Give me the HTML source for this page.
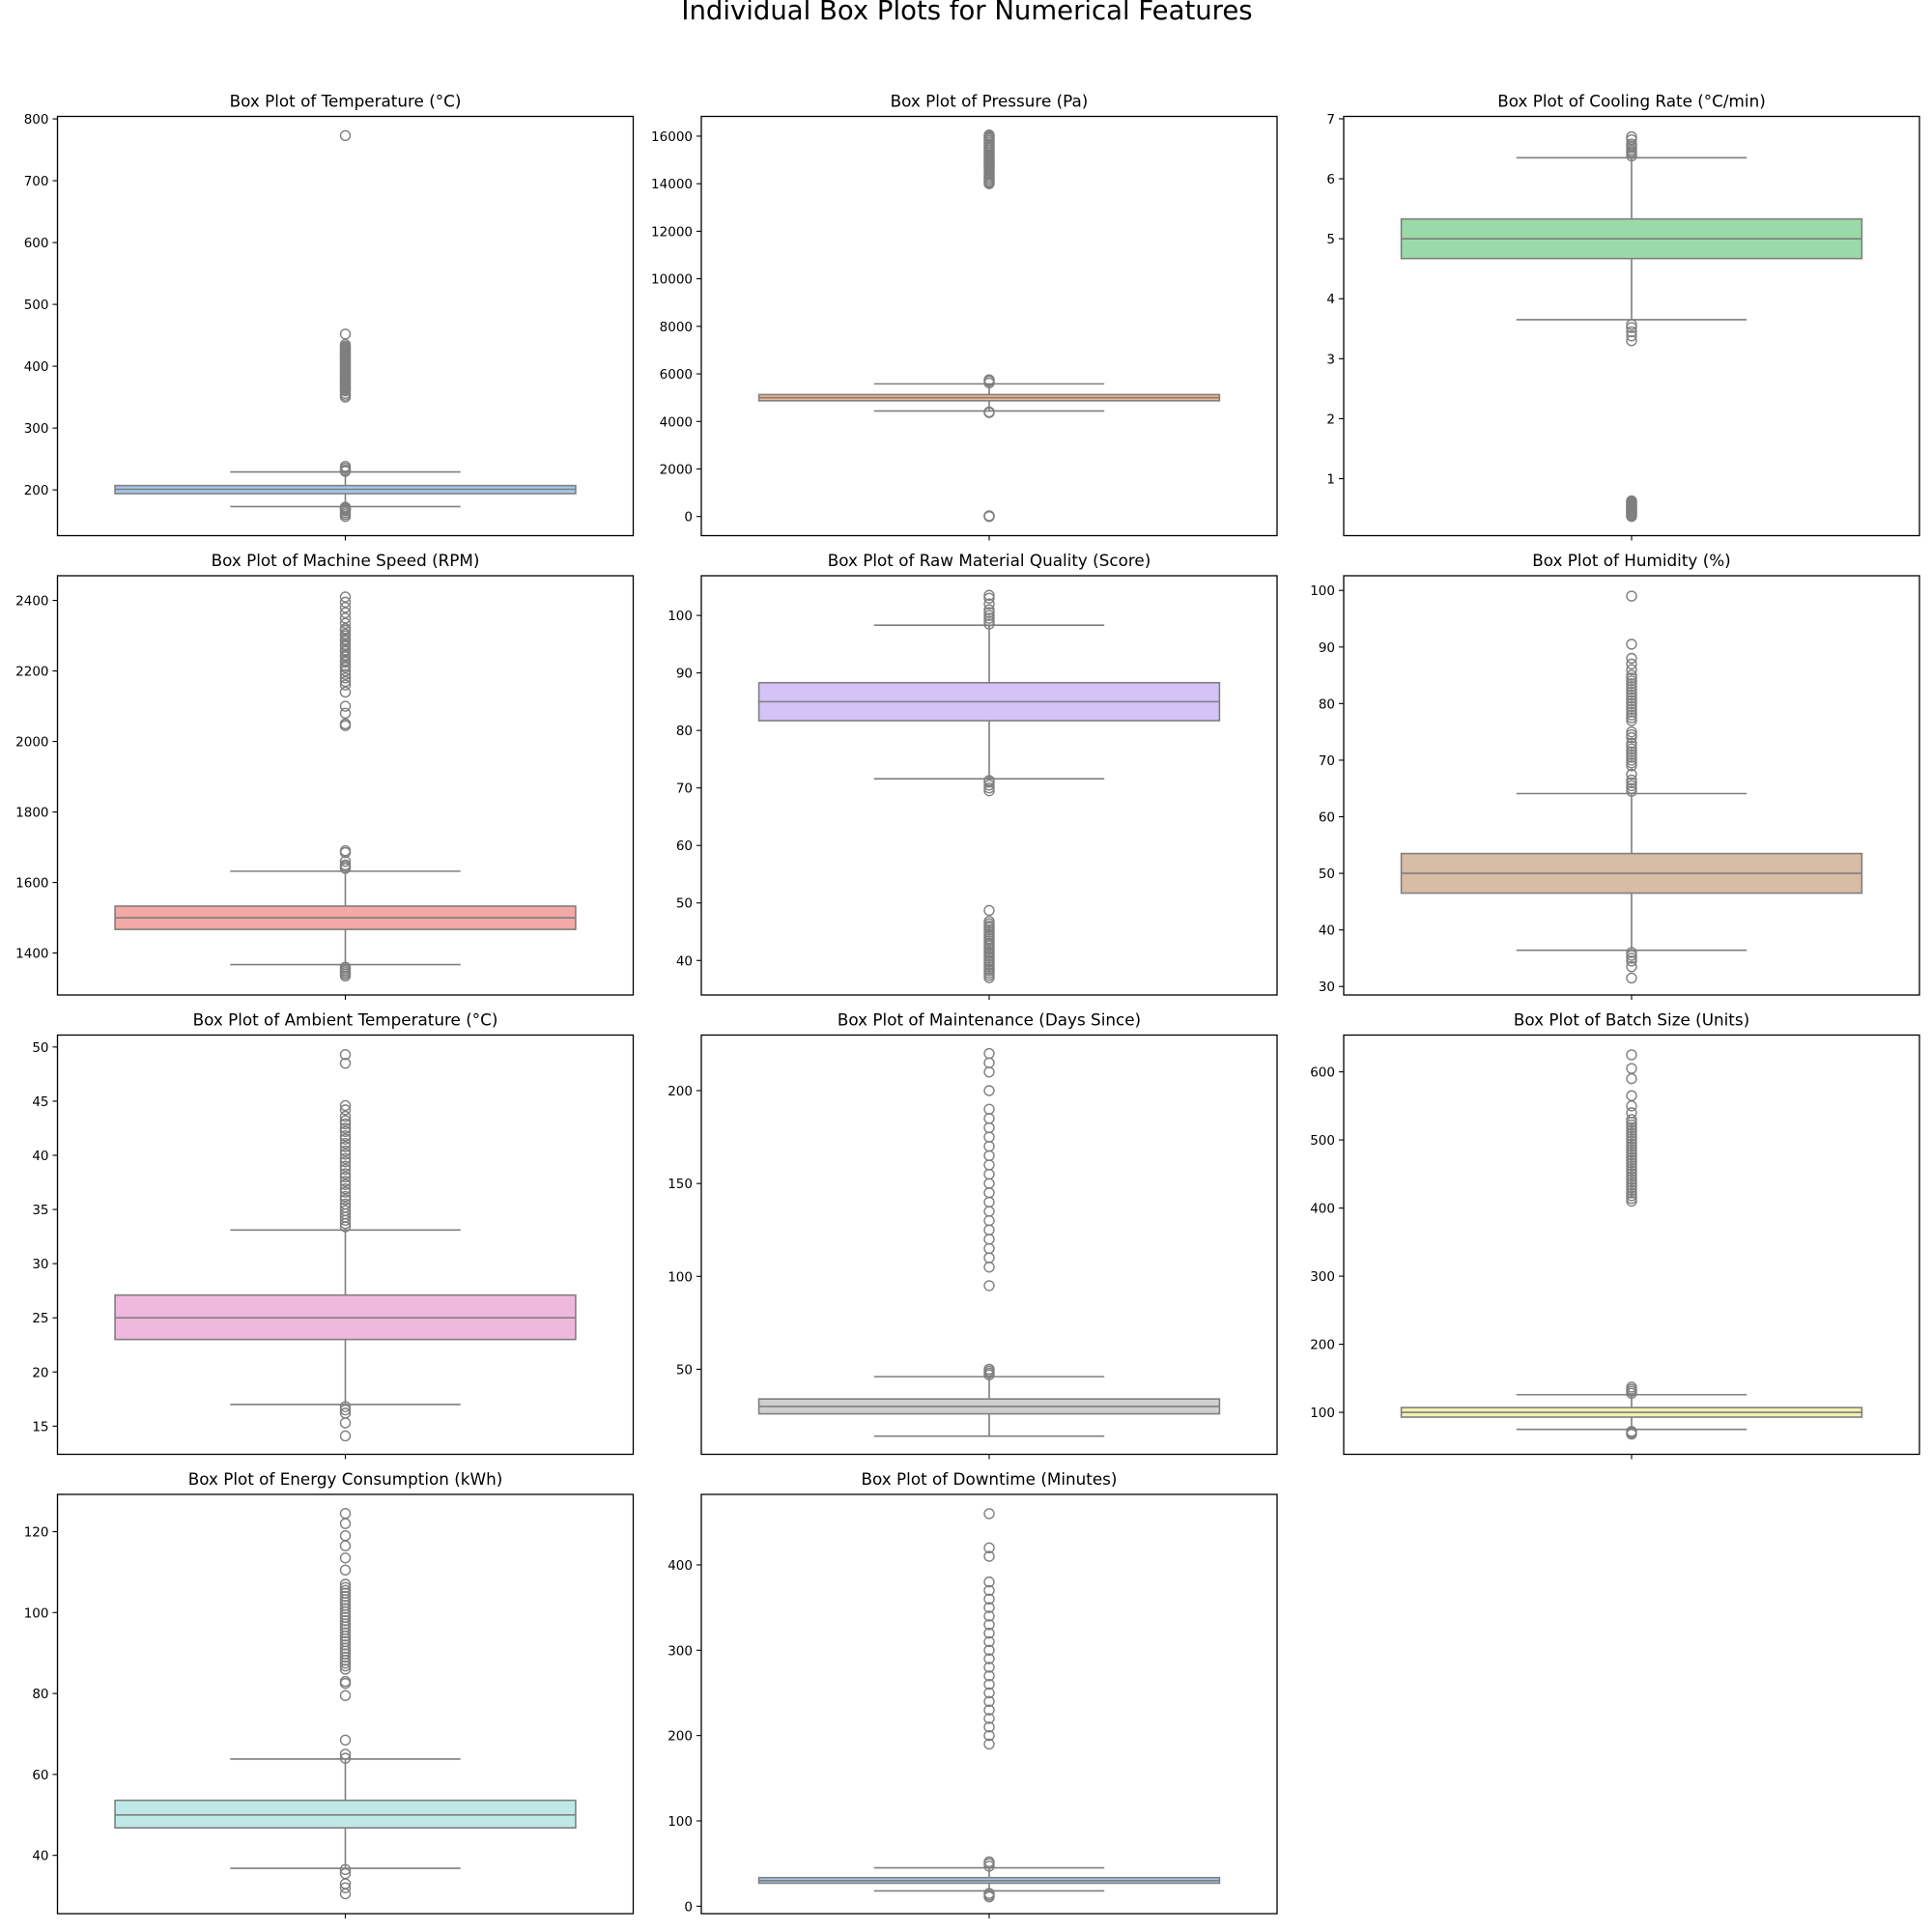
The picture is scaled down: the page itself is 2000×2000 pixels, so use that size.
<!DOCTYPE html>
<html><head><meta charset="utf-8">
<style>
html,body{margin:0;padding:0;background:#fff;}
svg{display:block;font-family:"DejaVu Sans","Liberation Sans",sans-serif;}
</style></head>
<body>
<svg id="fig" width="2000" height="2000" viewBox="0 0 2000 2000" xmlns="http://www.w3.org/2000/svg">
<rect x="0" y="0" width="2000" height="2000" fill="#fff"/>
<text x="1001" y="20" font-size="27.5" text-anchor="middle" fill="#000">Individual Box Plots for Numerical Features</text>
</svg>
<script>
// ---- chart data ----
const titles = ["Temperature (°C)","Pressure (Pa)","Cooling Rate (°C/min)","Machine Speed (RPM)","Raw Material Quality (Score)","Humidity (%)","Ambient Temperature (°C)","Maintenance (Days Since)","Batch Size (Units)","Energy Consumption (kWh)","Downtime (Minutes)"];
const yMins = [126,-805,0.05,1281,34,28.5,12.4,4.2,38.4,25.6,-8.7];
const yMaxs = [804,16831,7.04,2470,106.9,102.6,51.1,229.9,654,129.2,482.6];
const q1s = [194,4870,4.67,1467,81.7,46.5,23.0,26,93,46.8,27];
const medians = [201,5000,5.0,1500,85,50,25,30,100,50,30];
const q3s = [207,5130,5.33,1533,88.3,53.5,27.1,34,107,53.6,33.5];
const whiskerLows = [173,4440,3.65,1367,71.6,36.4,17.0,14,75,36.8,18];
const whiskerHighs = [229,5580,6.35,1632,98.3,64.1,33.1,46,126,63.8,45];
const outliers0 = [157,160,163,166,168,169,171,172,230,232,235,238,350,353,356,360,362,364,366,368,370,372,374,376,378,380,382,384,386,388,390,392,394,396,398,400,402,404,406,408,410,412,414,416,418,420,422,424,426,428,430,432,435,452,773];
const outliers1 = [0,15,30,4370,4400,5620,5700,5750,14000,14050,14100,14175,14250,14325,14400,14475,14550,14625,14700,14750,14800,14850,14900,14950,15000,15050,15100,15150,15200,15275,15350,15425,15500,15550,15600,15675,15750,15825,15900,15950,16000,16050];
const outliers2 = [0.37,0.39,0.4,0.42,0.43,0.45,0.46,0.48,0.5,0.52,0.53,0.55,0.56,0.58,0.6,0.62,0.63,3.3,3.38,3.45,3.52,3.57,6.38,6.42,6.45,6.48,6.52,6.55,6.58,6.65,6.7];
const outliers3 = [1335,1340,1345,1350,1355,1360,1640,1645,1650,1660,1685,1690,2045,2050,2080,2100,2140,2160,2170,2180,2190,2200,2210,2215,2225,2230,2240,2245,2255,2260,2270,2275,2285,2290,2300,2305,2315,2320,2335,2350,2365,2380,2395,2410];
const outliers4 = [37,37.4,37.8,38.2,38.5,38.9,39.3,39.7,40,40.4,40.8,41.2,41.5,41.9,42.2,42.6,43,43.4,43.8,44.2,44.5,44.9,45.3,45.7,46,46.4,46.8,48.7,69.5,70,70.5,71,71.3,98.5,99,99.5,100,100.5,101,102,103,103.5];
const outliers5 = [31.5,33.5,34.5,35,35.5,36,64.5,65,65.5,66,66.5,67.5,69,69.5,70,70.5,71,71.5,72,72.5,73,74,74.5,75,77,77.5,78,78.5,79,79.5,80,80.5,81,81.5,82,82.5,83,83.5,84,84.5,85,86,87,88,90.5,99];
const outliers6 = [14.1,15.3,16.2,16.5,16.8,33.4,33.7,34,34.3,34.6,34.9,35.2,35.5,35.9,36.2,36.6,36.9,37.3,37.6,38,38.3,38.7,39,39.4,39.7,40.1,40.4,40.8,41.1,41.5,41.8,42.2,42.5,42.9,43.2,43.6,44.2,44.6,48.5,49.3];
const outliers7 = [47,48,49,50,95,105,110,115,120,125,130,135,140,145,150,155,160,165,170,175,180,185,190,200,210,215,220];
const outliers8 = [68,70,72,128,131,134,137,410,414,418,422,426,430,434,438,442,446,450,454,458,462,466,470,474,478,482,486,490,494,498,502,506,510,514,518,522,526,530,540,550,565,590,605,625];
const outliers9 = [30.5,32,33,35.5,36.5,64,65,68.5,79.5,82.5,83,86,86.8,87.5,88.2,89,89.8,90.5,91.2,92,92.8,93.5,94.2,95,95.8,96.5,97.2,98,98.8,99.5,100.2,101,101.8,102.5,103.2,104,104.8,105.5,106.2,107,110.5,113.5,116.5,119,122,124.5];
const outliers10 = [11,13,15,47,50,52,190,200,210,220,230,240,250,260,270,280,290,300,310,320,330,340,350,360,370,380,410,420,460];
const yTicks = [[200,300,400,500,600,700,800],[0,2000,4000,6000,8000,10000,12000,14000,16000],[1,2,3,4,5,6,7],[1400,1600,1800,2000,2200,2400],[40,50,60,70,80,90,100],[30,40,50,60,70,80,90,100],[15,20,25,30,35,40,45,50],[50,100,150,200],[100,200,300,400,500,600],[40,60,80,100,120],[0,100,200,300,400]];
const fills = ["#a7c8ed","#f6b78c","#9adaa8","#f3a9a6","#d3c3f7","#d7bda3","#efb8dd","#cfcfcf","#f4f1b0","#bfe9e6","#a7c8ed"];
const outlierSets = [outliers0,outliers1,outliers2,outliers3,outliers4,outliers5,outliers6,outliers7,outliers8,outliers9,outliers10];

// ---- layout ----
const NS = "http://www.w3.org/2000/svg";
const svg = document.getElementById("fig");
const colX = [59.5, 726, 1391];
const rowY = [120.5, 596, 1071.5, 1547];
const W = 596, H = 434;
function mk(tag, attrs, parent){const e=document.createElementNS(NS,tag);for(const k in attrs)e.setAttribute(k,attrs[k]);parent.appendChild(e);return e;}
const LC = "#7f7f7f";

for (let i = 0; i < titles.length; i++) {
  const ax0 = colX[i % 3], ay0 = rowY[Math.floor(i / 3)];
  const g = mk("g", {}, svg);
  
  
  const yScale = v => ay0 + H - (v - yMins[i]) / (yMaxs[i] - yMins[i]) * H;
  const xScale = u => ax0 + W / 2 + u * W;
  const t = mk("text", {x: ax0 + W / 2, y: ay0 - 10, "font-size": 16.8, "text-anchor": "middle", fill: "#000"}, g);
  t.textContent = "Box Plot of " + titles[i];
  
  
  const cx = xScale(0);
  const wl = mk("line", {x1: cx, x2: cx, y1: yScale(q3s[i]), y2: yScale(whiskerHighs[i]), stroke: LC, "stroke-width": 1.6}, g);
  
  
  const wl2 = mk("line", {x1: cx, x2: cx, y1: yScale(q1s[i]), y2: yScale(whiskerLows[i]), stroke: LC, "stroke-width": 1.6}, g);
  
  
  [whiskerHighs[i], whiskerLows[i]].forEach(v => {
    const c = mk("line", {x1: xScale(-0.2), x2: xScale(0.2), y1: yScale(v), y2: yScale(v), stroke: LC, "stroke-width": 1.6}, g);
    
    
  });
  const bt = yScale(q3s[i]), bb = yScale(q1s[i]);
  const box = mk("rect", {x: xScale(-0.4), y: bt, width: 0.8 * W, height: Math.max(bb - bt, 0.5), fill: fills[i], stroke: LC, "stroke-width": 1.6}, g);
  
  
  const med = mk("line", {x1: xScale(-0.4), x2: xScale(0.4), y1: yScale(medians[i]), y2: yScale(medians[i]), stroke: LC, "stroke-width": 1.6}, g);
  
  
  outlierSets[i].forEach(v => {
    const c = mk("circle", {cx: cx, cy: yScale(v), r: 5, fill: "none", stroke: LC, "stroke-width": 1.4}, g);
    
    
  });
  const fr = mk("rect", {x: ax0, y: ay0, width: W, height: H, fill: "none", stroke: "#000", "stroke-width": 1.3}, g);
  
  
  yTicks[i].forEach(v => {
    const y = yScale(v);
    const tk = mk("line", {x1: ax0 - 5, x2: ax0, y1: y, y2: y, stroke: "#000", "stroke-width": 1.1}, g);
    
    
    const lb = mk("text", {x: ax0 - 9, y: y + 5, "font-size": 13.5, "text-anchor": "end", fill: "#000"}, g);
    lb.textContent = String(v);
    
    
  });
  const xt = mk("line", {x1: cx, x2: cx, y1: ay0 + H, y2: ay0 + H + 5, stroke: "#000", "stroke-width": 1.1}, g);
  
  
}
</script>
</body></html>
